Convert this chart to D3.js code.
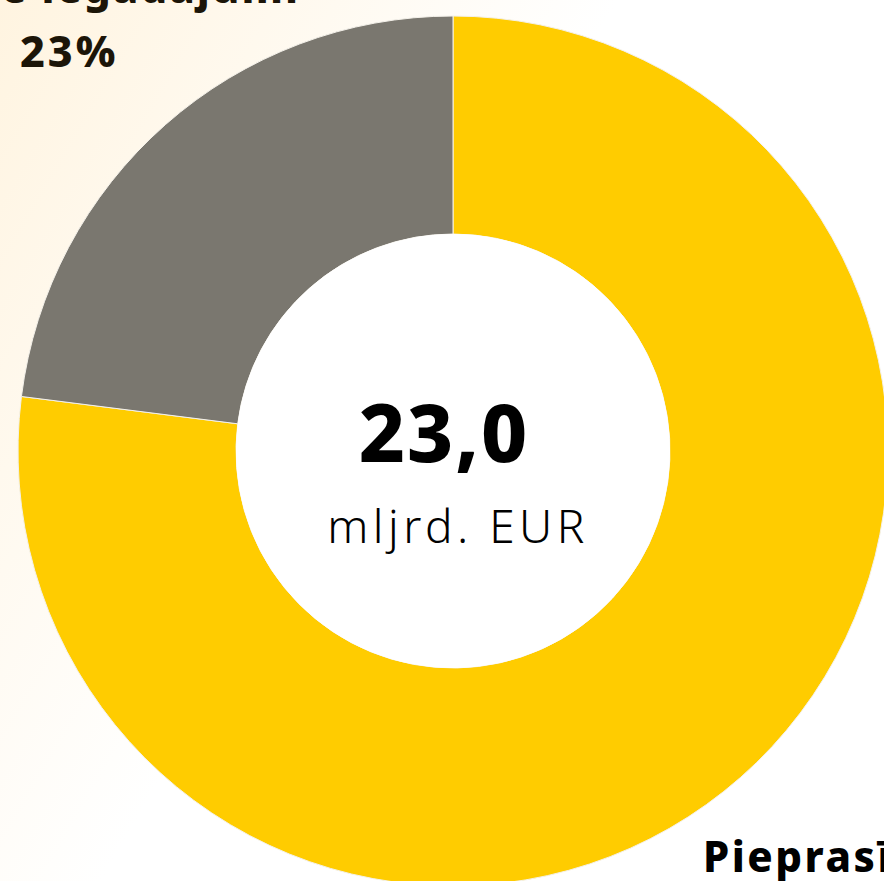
<!DOCTYPE html>
<html>
<head>
<meta charset="utf-8">
<script src="https://cdn.jsdelivr.net/npm/d3@7"></script>
<style>
  html, body { margin: 0; padding: 0; background: #fff; overflow: hidden; }
  svg { display: block; }
</style>
</head>
<body>
<script>
// dati: daļas no kopējās summas
var categories = ['Pieprasījums', 'Publiskie iegādājumi'];
var shares     = [77, 23];
var colors     = ['#ffcc00', 'url(#grayGrad)'];
var totalText  = '23,0';
var unitText   = 'mljrd. EUR';

var WIDTH  = 884;
var HEIGHT = 881;
var cx = 453, cy = 451;
var outerR = 435, innerR = 217;

var svg = d3.select('body')
            .append('svg')
            .attr('width', WIDTH)
            .attr('height', HEIGHT);

var defs = svg.append('defs');

// fons: krēmīgs stūris augšā pa kreisi
var bg = defs.append('linearGradient')
             .attr('id', 'bgGrad')
             .attr('gradientUnits', 'userSpaceOnUse')
             .attr('x1', 0).attr('y1', 0)
             .attr('x2', 460).attr('y2', 270);
bg.append('stop').attr('offset', 0).attr('stop-color', '#fff4e0');
bg.append('stop').attr('offset', 1).attr('stop-color', '#ffffff');

var gg = defs.append('linearGradient')
             .attr('id', 'grayGrad')
             .attr('gradientUnits', 'userSpaceOnUse')
             .attr('x1', 20).attr('y1', 200)
             .attr('x2', 453).attr('y2', 200);
gg.append('stop').attr('offset', 0).attr('stop-color', '#7a776f');
gg.append('stop').attr('offset', 1).attr('stop-color', '#707070');

svg.append('rect')
   .attr('width', WIDTH)
   .attr('height', HEIGHT)
   .attr('fill', 'url(#bgGrad)');

var pie = d3.pie().sort(null).value(function(d) { return d; });
var arc = d3.arc().innerRadius(innerR).outerRadius(outerR);

var g = svg.append('g').attr('transform', 'translate(' + cx + ',' + cy + ')');

g.selectAll('path')
 .data(pie(shares))
 .enter()
 .append('path')
   .attr('d', arc)
   .attr('fill', function(d, i) { return colors[i]; })
   .attr('stroke', '#f4f1ea')
   .attr('stroke-width', 1);

g.append('circle')
 .attr('r', innerR)
 .attr('fill', '#ffffff');

// centra teksts
g.append('text')
 .attr('x', -9).attr('y', 11)
 .attr('text-anchor', 'middle')
 .attr('font-family', '"Noto Sans", sans-serif')
 .attr('font-weight', 800)
 .attr('font-size', 80)
 .attr('letter-spacing', 2)
 .attr('fill', '#000')
 .text(totalText);

g.append('text')
 .attr('x', 5).attr('y', 92)
 .attr('text-anchor', 'middle')
 .attr('font-family', '"Noto Sans", sans-serif')
 .attr('font-weight', 300)
 .attr('font-size', 46)
 .attr('letter-spacing', 4.5)
 .attr('fill', '#000')
 .text(unitText);

// etiķetes
var labelFont = '"Noto Sans", sans-serif';

svg.append('text')
   .attr('x', 300).attr('y', 3)
   .attr('text-anchor', 'end')
   .attr('font-family', labelFont)
   .attr('font-weight', 800)
   .attr('font-size', 42)
   .attr('letter-spacing', 2)
   .attr('fill', '#1c1508')
   .text(categories[1]);

svg.append('text')
   .attr('x', 20).attr('y', 67)
   .attr('font-family', labelFont)
   .attr('font-weight', 800)
   .attr('font-size', 43)
   .attr('letter-spacing', 3)
   .attr('fill', '#1c1508')
   .text(shares[1] + '%');

svg.append('text')
   .attr('x', 703).attr('y', 872)
   .attr('font-family', labelFont)
   .attr('font-weight', 800)
   .attr('font-size', 42)
   .attr('letter-spacing', 2.5)
   .attr('fill', '#000')
   .text(categories[0]);
</script>
</body>
</html>
